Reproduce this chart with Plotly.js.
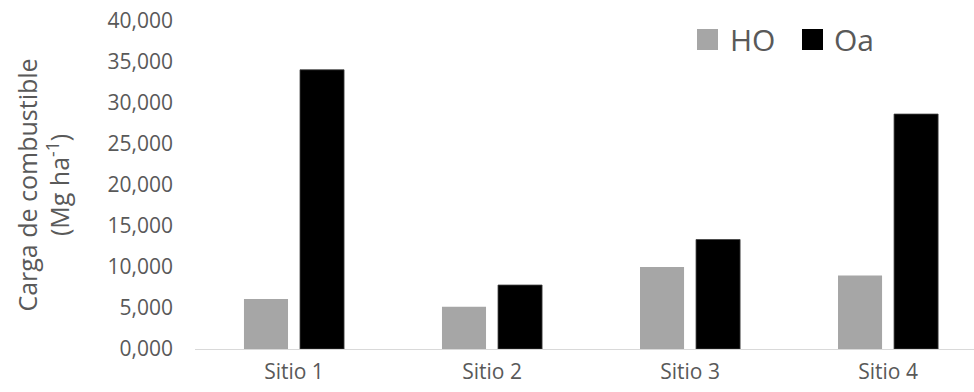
<!DOCTYPE html>
<html>
<head>
<meta charset="utf-8">
<script src="https://cdn.plot.ly/plotly-3.0.1.min.js"></script>
<style>html,body{margin:0;padding:0;background:#fff;}#chart{width:974px;height:392px;}</style>
</head>
<body>
<div id="chart"></div>
<script>
const categories = ["Sitio 1", "Sitio 2", "Sitio 3", "Sitio 4"];
const seriesNames = ["HO", "Oa"];
const hoValues = [6100, 5150, 10000, 8950];
const oaValues = [34050, 7800, 13350, 28650];
const yTickVals = [0, 5000, 10000, 15000, 20000, 25000, 30000, 35000, 40000];
const yTickText = ["0,000", "5,000", "10,000", "15,000", "20,000", "25,000", "30,000", "35,000", "40,000"];
const colors = ["#a6a6a6", "#000000"];

const font = "Open Sans, sans-serif";
const textColor = "#595959";

const traces = [
  {type: "bar", name: seriesNames[0], x: categories, y: hoValues,
   marker: {color: colors[0], line: {width: 0}}, showlegend: false},
  {type: "bar", name: seriesNames[1], x: categories, y: oaValues,
   marker: {color: colors[1], line: {width: 0.8, color: "#404040"}}, showlegend: false}
];

// Legend drawn with paper-referenced swatches so they can be large like the reference
const legendSwatches = [[0.6444, 0.6714], [0.7792, 0.8062]];
const legendTextX = [0.6842, 0.8177];
const shapes = legendSwatches.map((s, i) => ({
  type: "rect", xref: "paper", yref: "paper", x0: s[0], x1: s[1], y0: 0.9116, y1: 0.9756,
  fillcolor: colors[i], line: {width: 0}
}));
const annotations = seriesNames.map((n, i) => ({
  xref: "paper", yref: "paper", x: legendTextX[i], y: 0.943, xanchor: "left", yanchor: "middle",
  text: n, showarrow: false, font: {family: font, size: 30, color: textColor}
}));

const layout = {
  width: 974, height: 392,
  margin: {l: 195, r: 0, t: 21, b: 43, pad: 0},
  paper_bgcolor: "#ffffff", plot_bgcolor: "#ffffff",
  barmode: "group", bargap: 0.434, bargroupgap: 0.214,
  font: {family: font, color: textColor},
  xaxis: {
    range: [-0.5, 3.434], showgrid: false, zeroline: false,
    showline: true, linecolor: "#d9d9d9", linewidth: 1.3,
    ticks: "", tickfont: {family: font, size: 21, color: textColor},
    ticklabelstandoff: 3, fixedrange: true
  },
  yaxis: {
    range: [0, 40000], showgrid: false, zeroline: false, showline: false,
    tickvals: yTickVals, ticktext: yTickText, ticks: "",
    tickfont: {family: font, size: 21, color: textColor},
    ticklabelstandoff: 21,
    title: {text: "Carga de combustible<br>(Mg ha<sup>-1</sup>)", font: {family: font, size: 25, color: textColor}, standoff: 30},
    automargin: false, fixedrange: true
  },
  shapes: shapes,
  annotations: annotations,
  showlegend: false
};

Plotly.newPlot("chart", traces, layout, {displayModeBar: false, staticPlot: true});
</script>
</body>
</html>
